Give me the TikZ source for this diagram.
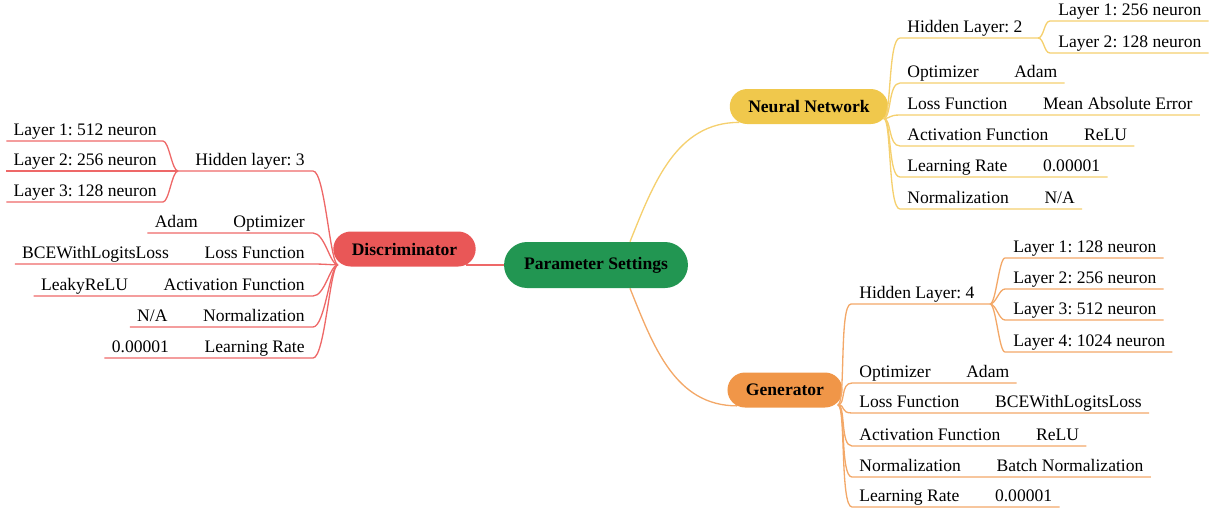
\documentclass[tikz,border=0pt]{standalone}
\usepackage{fontspec}
\setmainfont{Liberation Serif}
\frenchspacing
\usetikzlibrary{positioning,backgrounds}
\definecolor{discColor}{RGB}{233,87,87}
\definecolor{discLineColor}{RGB}{238,104,104}
\definecolor{netColor}{RGB}{240,200,76}
\definecolor{netLineColor}{RGB}{245,208,110}
\definecolor{genColor}{RGB}{240,150,72}
\definecolor{genLineColor}{RGB}{243,168,104}
\definecolor{rootColor}{RGB}{34,150,82}
\tikzstyle{mindmap} = [x = 0.02cm, y = -0.02cm]
\tikzstyle{topicStyle} = [rounded corners = .35cm, minimum height = .7cm, inner xsep = .37cm, font=\fontsize{10}{12}\selectfont\bfseries, text=black]
\tikzstyle{rootStyle} = [topicStyle, fill=rootColor, rounded corners = .46cm, minimum height = .92cm, inner xsep = .4cm]
\tikzstyle{leafText} = [inner sep = 0, font=\fontsize{10}{12}\selectfont]
\tikzstyle{discLine} = [color=discLineColor, line width=.75pt]
\tikzstyle{netLine} = [color=netLineColor, line width=.75pt]
\tikzstyle{genLine} = [color=genLineColor, line width=.75pt]
\newcommand{\valueGap}{.7cm}
% style, root, name, x, underline y, label, value
\newcommand{\rightAttr}[7]{
  \node [leafText, anchor=base west] (#3) at (#4, #5 - 6) {#6};
  \node [leafText, anchor=base west] (#3v) at ([xshift=\valueGap]#3.base east) {#7};
  \coordinate (#3s) at (#4 - 7, #5);
  \coordinate (#3e) at (#3s -| #3v.east);
  \draw [#1] (#2) .. controls +(8, 0) and +(-12, 0) .. (#3s) -- ([xshift=4pt]#3e);
}
\newcommand{\leftAttr}[7]{
  \node [leafText, anchor=base east] (#3) at (#4, #5 - 6) {#6};
  \node [leafText, anchor=base east] (#3v) at ([xshift=-\valueGap]#3.base west) {#7};
  \coordinate (#3s) at (#4 + 8, #5);
  \coordinate (#3e) at (#3s -| #3v.west);
  \draw [#1] (#2) .. controls +(-8, 0) and +(12, 0) .. (#3s) -- ([xshift=-4pt]#3e);
}
% style, root, name, x, underline y, text
\newcommand{\rightLayer}[6]{
  \node [leafText, anchor=base west] (#3) at (#4, #5 - 6) {#6};
  \coordinate (#3s) at (#4 - 8, #5);
  \coordinate (#3e) at (#3s -| #3.east);
  \draw [#1] (#2) .. controls +(6, 0) and +(-6, 0) .. (#3s) -- ([xshift=4pt]#3e);
}
\newcommand{\leftLayer}[6]{
  \node [leafText, anchor=base east] (#3) at (#4 - 6, #5 - 6) {#6};
  \coordinate (#3s) at (#4, #5);
  \coordinate (#3e) at (#3s -| #3.west);
  \draw [#1] (#2) .. controls +(-6, 0) and +(6, 0) .. (#3s) -- ([xshift=-4pt]#3e);
}
\begin{document}
\begin{tikzpicture}[mindmap]
  \useasboundingbox (0, 0) rectangle (1225, 512);

  \node [rootStyle] (params) at (596, 265) {Parameter Settings};
  \node [topicStyle, fill=discColor] (disc) at (404.5, 249) {Discriminator};
  \node [topicStyle, fill=netColor] (net) at (809, 106.5) {Neural Network};
  \node [topicStyle, fill=genColor] (gen) at (785, 390) {Generator};

  \begin{scope}[on background layer]
    \coordinate (discJoin) at ([xshift=-.2cm]params.west -| disc.east);
    \coordinate (netJoin) at ([xshift=.2cm, yshift=.04cm]net.south west);
    \coordinate (genJoin) at ([xshift=.2cm, yshift=.04cm]gen.south west);
    \draw [discLine] (params.west) -- (discJoin);
    \draw [netLine] ([xshift=.68cm]params.north) to [out=68, in=180] (netJoin);
    \draw [genLine] ([xshift=.68cm]params.south) to [out=-68, in=180] (genJoin);
  \end{scope}

  % discriminator
  \coordinate (discRoot) at ([xshift=.1cm, yshift=.04cm]disc.south west);
  \node [leafText, anchor=base east] (discHidden) at (305, 165) {Hidden layer: 3};
  \coordinate (discHiddenS) at (313, 171);
  \coordinate (discHiddenE) at (178, 171);
  \draw [discLine] (discRoot) .. controls +(-8, 0) and +(12, 0) .. (discHiddenS) -- (discHiddenE);
  \leftLayer{discLine}{discHiddenE}{discLayerA}{163}{141}{Layer 1: 512 neuron}
  \leftLayer{discLine}{discHiddenE}{discLayerB}{163}{171}{Layer 2: 256 neuron}
  \leftLayer{discLine}{discHiddenE}{discLayerC}{163}{202}{Layer 3: 128 neuron}
  \leftAttr{discLine}{discRoot}{discOpt}{305}{233}{Optimizer}{Adam}
  \leftAttr{discLine}{discRoot}{discLoss}{305}{264}{Loss Function}{BCEWithLogitsLoss}
  \leftAttr{discLine}{discRoot}{discAct}{305}{296}{Activation Function}{LeakyReLU}
  \leftAttr{discLine}{discRoot}{discNorm}{305}{327}{Normalization}{N/A}
  \leftAttr{discLine}{discRoot}{discRate}{305}{358}{Learning Rate}{0.00001}

  % neural network
  \coordinate (netRoot) at ([xshift=-.1cm, yshift=.12cm]net.south east);
  \node [leafText, anchor=base west] (netHidden) at (907, 32) {Hidden Layer: 2};
  \coordinate (netHiddenS) at (900, 38);
  \coordinate (netHiddenE) at (1038, 38);
  \draw [netLine] (netRoot) .. controls +(8, 0) and +(-12, 0) .. (netHiddenS) -- (netHiddenE);
  \rightLayer{netLine}{netHiddenE}{netLayerA}{1058}{21}{Layer 1: 256 neuron}
  \rightLayer{netLine}{netHiddenE}{netLayerB}{1058}{53}{Layer 2: 128 neuron}
  \rightAttr{netLine}{netRoot}{netOpt}{907}{83}{Optimizer}{Adam}
  \rightAttr{netLine}{netRoot}{netLoss}{907}{115}{Loss Function}{Mean Absolute Error}
  \rightAttr{netLine}{netRoot}{netAct}{907}{146}{Activation Function}{ReLU}
  \rightAttr{netLine}{netRoot}{netRate}{907}{177}{Learning Rate}{0.00001}
  \rightAttr{netLine}{netRoot}{netNorm}{907}{209}{Normalization}{N/A}

  % generator
  \coordinate (genRoot) at ([xshift=-.1cm, yshift=.06cm]gen.south east);
  \node [leafText, anchor=base west] (genHidden) at (859, 298) {Hidden Layer: 4};
  \coordinate (genHiddenS) at (851, 304);
  \coordinate (genHiddenE) at (990, 304);
  \draw [genLine] (genRoot) .. controls +(8, 0) and +(-12, 0) .. (genHiddenS) -- (genHiddenE);
  \rightLayer{genLine}{genHiddenE}{genLayerA}{1013}{258}{Layer 1: 128 neuron}
  \rightLayer{genLine}{genHiddenE}{genLayerB}{1013}{289}{Layer 2: 256 neuron}
  \rightLayer{genLine}{genHiddenE}{genLayerC}{1013}{320}{Layer 3: 512 neuron}
  \rightLayer{genLine}{genHiddenE}{genLayerD}{1013}{352}{Layer 4: 1024 neuron}
  \rightAttr{genLine}{genRoot}{genOpt}{859}{383}{Optimizer}{Adam}
  \rightAttr{genLine}{genRoot}{genLoss}{859}{413}{Loss Function}{BCEWithLogitsLoss}
  \rightAttr{genLine}{genRoot}{genAct}{859}{446}{Activation Function}{ReLU}
  \rightAttr{genLine}{genRoot}{genNorm}{859}{477}{Normalization}{Batch Normalization}
  \rightAttr{genLine}{genRoot}{genRate}{859}{507}{Learning Rate}{0.00001}
\end{tikzpicture}
\end{document}
